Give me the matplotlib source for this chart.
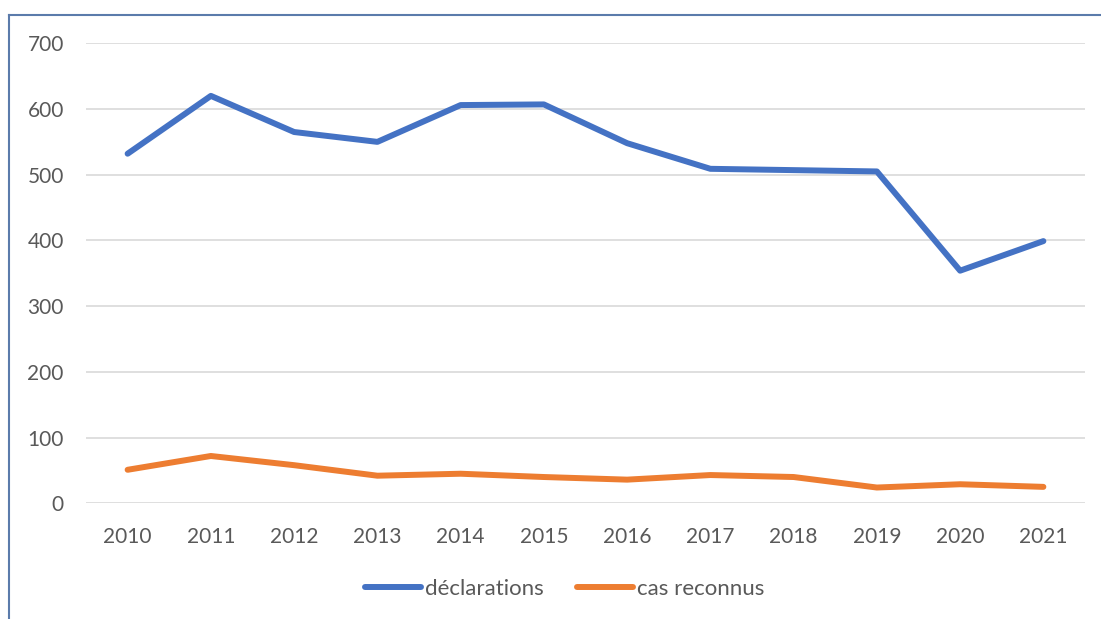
import matplotlib.pyplot as plt
from matplotlib.lines import Line2D

plt.rcParams['font.family'] = ['Lato', 'DejaVu Sans']

years = ['2010', '2011', '2012', '2013', '2014', '2015',
         '2016', '2017', '2018', '2019', '2020', '2021']
declarations = [532, 620, 565, 550, 606, 607, 548, 509, 507, 505, 354, 399]
cas_reconnus = [51, 72, 58, 42, 45, 40, 36, 43, 40, 24, 29, 25]

blue = '#4472C4'
orange = '#ED7D31'
grey_txt = '#595959'

fig = plt.figure(figsize=(11.01, 6.19), dpi=100)
ax = fig.add_axes([86/1101, 1 - 503.3/619, (1085 - 86)/1101, (503.3 - 43.3)/619])

x = list(range(len(years)))
ax.plot(x, declarations, color=blue, lw=4.3, solid_capstyle='round',
        solid_joinstyle='round', label='déclarations', zorder=3)
ax.plot(x, cas_reconnus, color=orange, lw=4.3, solid_capstyle='round',
        solid_joinstyle='round', label='cas reconnus', zorder=3)

ax.set_xlim(-0.5, len(years) - 0.5)
ax.set_ylim(0, 700)
ax.set_yticks(range(0, 701, 100))
ax.set_xticks(x)
ax.set_xticklabels(years)
ax.grid(axis='y', color='#D9D9D9', lw=1.2)
ax.set_axisbelow(True)
for s in ax.spines.values():
    s.set_visible(False)
ax.tick_params(length=0, labelsize=15, labelcolor=grey_txt)
ax.tick_params(axis='y', pad=16)
ax.tick_params(axis='x', pad=17)

# legend below the plot
fig.legend(loc='center', bbox_to_anchor=(565/1101, 1 - 589/619), ncol=2,
           frameon=False, fontsize=16, handlelength=2.5, handletextpad=0.2,
           columnspacing=1.5, labelcolor=grey_txt)

# chart frame (only left and top edges visible)
fig.add_artist(Line2D([9/1101, 9/1101], [0, 1 - 15/619], transform=fig.transFigure,
                      color='#5B7BAB', lw=1.5))
fig.add_artist(Line2D([9/1101, 1], [1 - 15/619, 1 - 15/619], transform=fig.transFigure,
                      color='#5B7BAB', lw=1.5))

fig.savefig('out.png', dpi=100)
